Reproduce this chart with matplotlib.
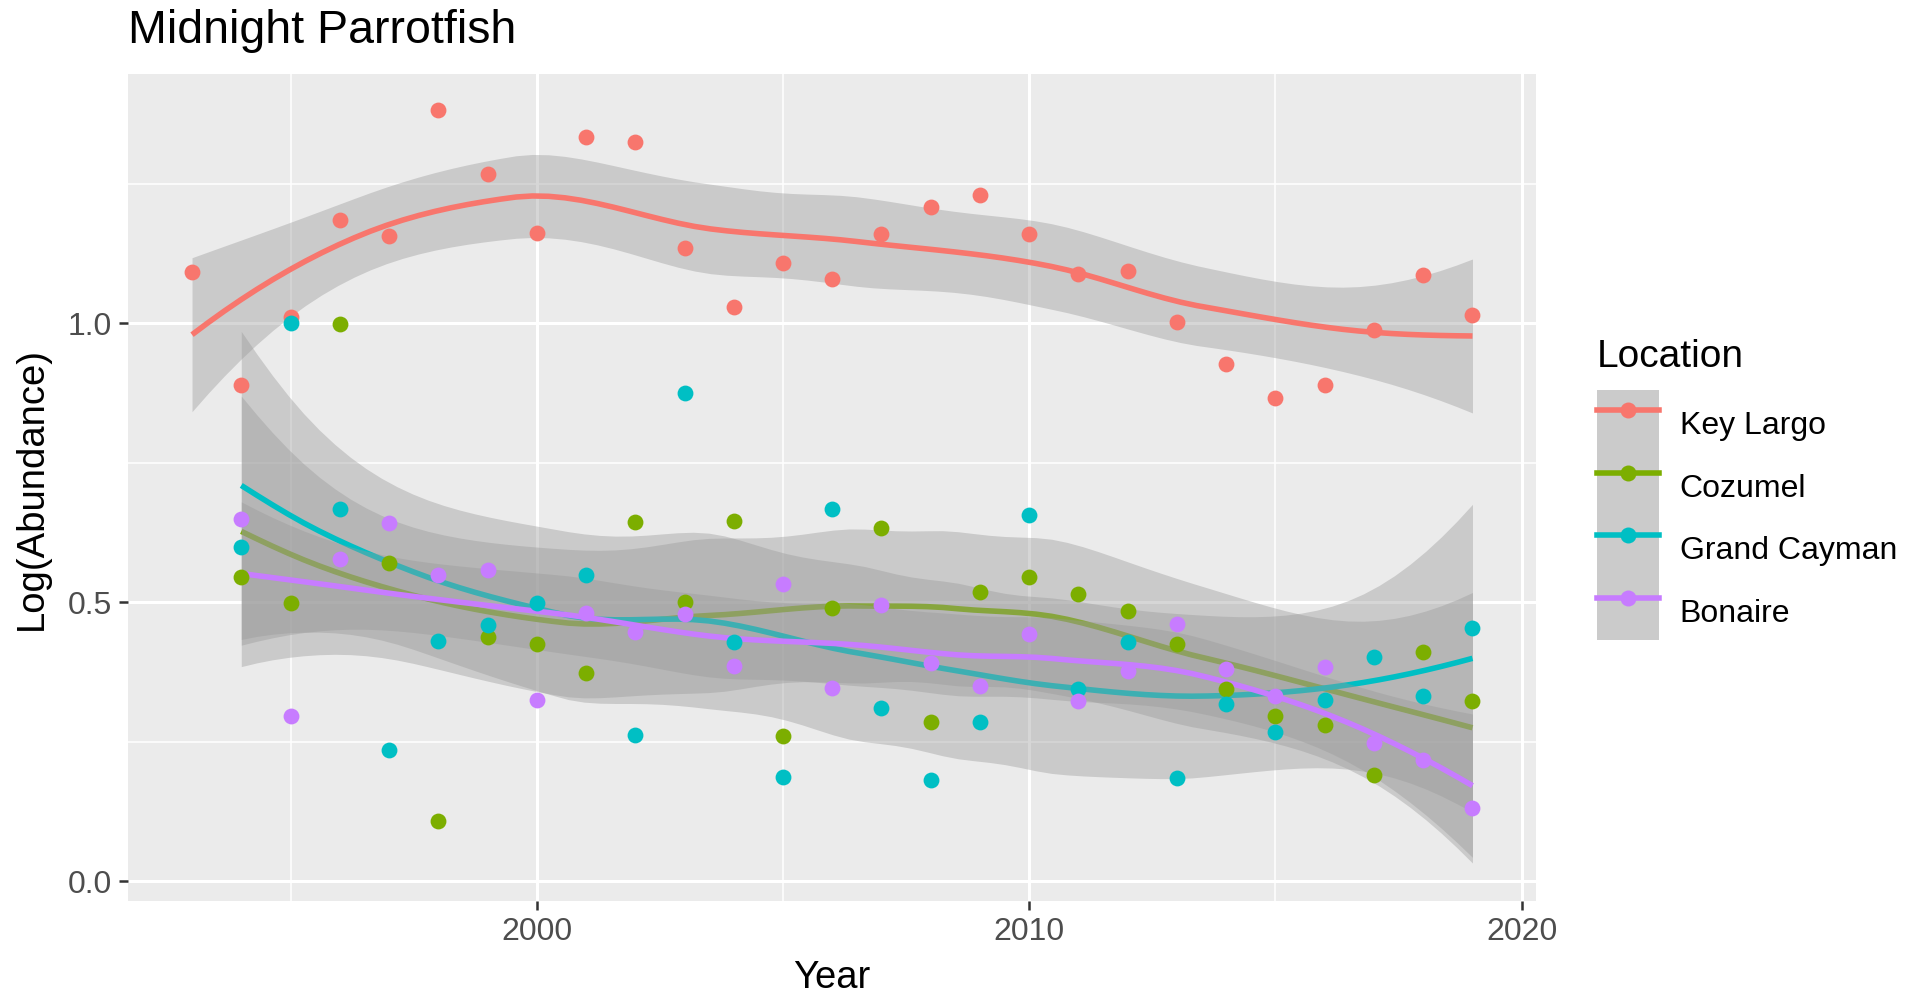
import numpy as np
import matplotlib
matplotlib.use("Agg")
import matplotlib.pyplot as plt
import matplotlib.transforms as mtransforms
from matplotlib.lines import Line2D
from matplotlib.patches import Patch

plt.rcParams['font.family'] = ['Liberation Sans', 'DejaVu Sans']

# Log abundance per year and location
years_kl = list(range(1993, 2020))
years = list(range(1994, 2020))

key_largo = [1.092, 0.890, 1.011, 1.186, 1.157, 1.383, 1.267, 1.163, 1.335, 1.325,
             1.135, 1.030, 1.109, 1.080, 1.161, 1.208, 1.231, 1.161, 1.088, 1.094,
             1.002, 0.927, 0.866, 0.890, 0.989, 1.087, 1.015]
cozumel = [0.546, 0.499, 0.999, 0.570, 0.109, 0.439, 0.426, 0.374, 0.645, 0.501,
           0.646, 0.260, 0.490, 0.634, 0.286, 0.519, 0.545, 0.516, 0.484, 0.426,
           0.345, 0.296, 0.281, 0.191, 0.412, 0.323]
grand_cayman = [0.600, 1.001, 0.667, 0.236, 0.431, 0.459, 0.499, 0.549, 0.262, 0.875,
                0.429, 0.188, 0.667, 0.311, 0.182, 0.286, 0.657, 0.345, 0.430, 0.186,
                0.318, 0.268, 0.326, 0.403, 0.333, 0.455]
bonaire = [0.649, 0.297, 0.578, 0.643, 0.549, 0.558, 0.326, 0.482, 0.447, 0.479,
           0.387, 0.534, 0.347, 0.496, 0.391, 0.350, 0.443, 0.324, 0.378, 0.462,
           0.381, 0.332, 0.385, 0.248, 0.217, 0.132]

locations = ['Key Largo', 'Cozumel', 'Grand Cayman', 'Bonaire']
series = [(years_kl, key_largo), (years, cozumel), (years, grand_cayman), (years, bonaire)]
colors = ['#F8766D', '#7CAE00', '#00BFC4', '#C77CFF']


def t_quantile(df):
    # Cornish-Fisher expansion of the 97.5% Student t quantile
    z = 1.959963985
    g1 = (z**3 + z) / 4
    g2 = (5 * z**5 + 16 * z**3 + 3 * z) / 96
    g3 = (3 * z**7 + 19 * z**5 + 17 * z**3 - 15 * z) / 384
    g4 = (79 * z**9 + 776 * z**7 + 1482 * z**5 - 1920 * z**3 - 945 * z) / 92160
    return z + g1 / df + g2 / df**2 + g3 / df**3 + g4 / df**4


def kd_vertices(x, fc):
    xs = np.sort(x)
    mu = 0.005 * (xs[-1] - xs[0])
    verts = {xs[0] - mu, xs[-1] + mu}

    def split(pts):
        if len(pts) <= fc:
            return
        m = (len(pts) + 1) // 2
        verts.add((pts[m - 1] + pts[m]) / 2)
        split(pts[:m])
        split(pts[m:])

    split(xs)
    return np.array(sorted(verts))


def loess(x, y, xgrid, span=0.75):
    # local quadratic fit, tricube weights, kd-tree vertices + cubic Hermite
    # interpolation of the operator, 95% band
    x = np.asarray(x, float)
    y = np.asarray(y, float)
    n = len(x)
    q = int(np.floor(n * span))

    def local(x0):
        d = np.abs(x - x0)
        h = np.sort(d)[q - 1]
        w = (1 - np.clip(d / h, 0, 1) ** 3) ** 3
        X = np.column_stack([np.ones(n), x - x0, (x - x0) ** 2])
        XtW = X.T * w
        B = np.linalg.solve(XtW @ X, XtW)
        return B[0], B[1]

    verts = kd_vertices(x, int(np.floor(n * span * 0.2)))
    vals, slopes = zip(*[local(v) for v in verts])
    vals = np.array(vals)
    slopes = np.array(slopes)

    def rows(pts):
        out = []
        for p in pts:
            j = min(max(np.searchsorted(verts, p) - 1, 0), len(verts) - 2)
            h = verts[j + 1] - verts[j]
            t = (p - verts[j]) / h
            h00 = 2 * t**3 - 3 * t**2 + 1
            h10 = t**3 - 2 * t**2 + t
            h01 = -2 * t**3 + 3 * t**2
            h11 = t**3 - t**2
            out.append(h00 * vals[j] + h10 * h * slopes[j]
                       + h01 * vals[j + 1] + h11 * h * slopes[j + 1])
        return np.array(out)

    L = rows(x)
    Lg = rows(xgrid)
    fit = Lg @ y
    M = np.eye(n) - L
    MtM = M.T @ M
    d1 = np.trace(MtM)
    d2 = np.trace(MtM @ MtM)
    resid = y - L @ y
    sigma = np.sqrt(resid @ resid / d1)
    se = sigma * np.sqrt((Lg ** 2).sum(axis=1))
    t = t_quantile(d1 ** 2 / d2)
    return fit, fit - t * se, fit + t * se


fig = plt.figure(figsize=(19.15, 9.94), dpi=100)
ax = fig.add_axes([128 / 1915, 1 - 901 / 994, 1408.5 / 1915, 827.5 / 994])
ax.set_facecolor('#EBEBEB')

for (xs, ys), col in zip(series, colors):
    grid = np.linspace(min(xs), max(xs), 80)
    fit, lo, hi = loess(xs, ys, grid)
    ax.fill_between(grid, lo, hi, color='#999999', alpha=0.4, linewidth=0, zorder=2)
    ax.plot(grid, fit, color=col, linewidth=4, solid_capstyle='butt', zorder=2)

for (xs, ys), col in zip(series, colors):
    ax.scatter(xs, ys, s=130, color=col, linewidths=0, zorder=3)

ax.set_xlim(1991.7, 2020.3)
ax.set_ylim(-0.035, 1.448)
ax.set_xticks([2000, 2010, 2020])
ax.set_xticks([1995, 2005, 2015], minor=True)
ax.set_yticks([0.0, 0.5, 1.0])
ax.set_yticklabels(['0.0', '0.5', '1.0'])
ax.set_yticks([0.25, 0.75, 1.25], minor=True)
ax.grid(which='major', color='white', linewidth=2.2)
ax.grid(which='minor', color='white', linewidth=1.1)
ax.set_axisbelow(True)
for s in ax.spines.values():
    s.set_visible(False)
ax.tick_params(which='major', length=6.5, width=1.8, color='#333333',
               labelsize=23, labelcolor='#4D4D4D', pad=5)
ax.tick_params(which='minor', length=0)

fig.text(128 / 1915, 1 - 43 / 994, 'Midnight Parrotfish', fontsize=33.5,
         ha='left', va='baseline')
fig.text(832 / 1915, 1 - 988 / 994, 'Year', fontsize=27.5, ha='center', va='baseline')
fig.text(32 / 1915, 1 - 488 / 994, 'Log(Abundance)', fontsize=27.5, rotation=90,
         ha='center', va='center')

# legend: grey ribbon key with line and point
fig.text(1597 / 1915, 1 - 366.7 / 994, 'Location', fontsize=28, ha='left', va='baseline')
handles = [(Patch(facecolor='#CBCBCB', edgecolor='none'),
            Line2D([], [], color=c, linewidth=4, marker='o', markersize=11.5,
                   markeredgewidth=0))
           for c in colors]
leg = fig.legend(handles, locations, loc='upper left',
                 bbox_to_anchor=(1597.5 / 1915, 1 - 390 / 994), bbox_transform=fig.transFigure,
                 frameon=False, fontsize=23, borderpad=0, borderaxespad=0,
                 handlelength=1.94, handleheight=2.63, labelspacing=0, handletextpad=0.63,
                 numpoints=1)
# nudge the labels down a little so they sit centred on the keys
nudge = mtransforms.ScaledTranslation(0, -3.5 / 100, fig.dpi_scale_trans)
for txt in leg.get_texts():
    txt.set_transform(txt.get_transform() + nudge)

fig.savefig('out.png', dpi=100)
